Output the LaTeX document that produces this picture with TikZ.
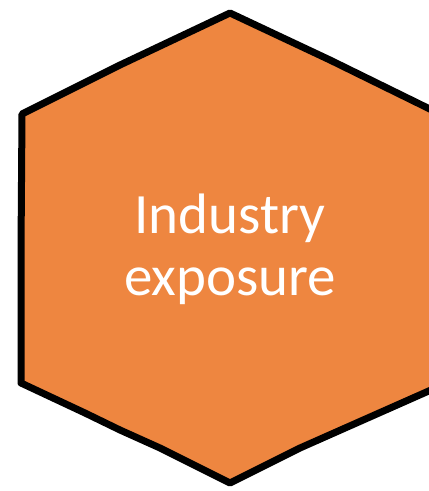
\documentclass[tikz,border=0pt]{standalone}
\usepackage{fontspec}
\setmainfont{Carlito}
\definecolor{hexorange}{HTML}{EE8640}
\tikzset{hexshape/.style={fill=hexorange, draw=black, line width=7pt, line join=round},
  hexlabel/.style={text=white, align=center, inner sep=0pt, font=\fontsize{57}{62}\selectfont}}
\begin{document}
\begin{tikzpicture}[x=1pt,y=-1pt]
\useasboundingbox (0,0) rectangle (429,491);
\clip (0,0) rectangle (429,491);
\draw[hexshape] (230,13) -- (330,60) -- (440,114) -- (440,386) -- (300,448) -- (230,483)
  -- (160,448) -- (120,430) -- (85,413) -- (21,383) -- (21,250) -- (22,114) -- (120,65) -- cycle;
\node[hexlabel, anchor=base] (t) at (230,233) {Industry};
\node[hexlabel, anchor=base] (e) at (230,295) {exposure};
\end{tikzpicture}
\end{document}
